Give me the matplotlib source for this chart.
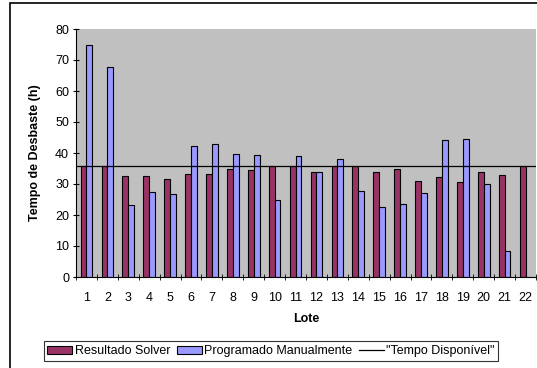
import numpy as np
import matplotlib
matplotlib.use("Agg")
import matplotlib.pyplot as plt
from matplotlib.patches import Rectangle

plt.rcParams['font.family'] = ['Liberation Sans', 'DejaVu Sans']

lotes = [str(i) for i in range(1, 23)]
solver = [35.9, 35.9, 32.7, 32.7, 31.6, 33.3, 33.3, 34.8, 34.5, 35.9, 35.9,
          34.0, 35.9, 35.9, 34.0, 34.9, 31.1, 32.4, 30.8, 34.0, 33.0, 35.9]
manual = [75.0, 67.8, 23.1, 27.3, 26.7, 42.3, 42.9, 39.7, 39.4, 25.0, 39.1,
          34.0, 38.2, 27.8, 22.5, 23.4, 27.0, 44.2, 44.5, 29.9, 8.3, 0.0]
tempo_disp = 35.9

fig = plt.figure(figsize=(5.37, 3.68), dpi=100)
ax = fig.add_axes([76/537, 1-277/368, 460/537, 248/368])
ax.set_facecolor('#C0C0C0')

x = np.arange(len(lotes))
w = 0.28
b1 = ax.bar(x - w/2, solver, w, color='#993366', edgecolor='black', linewidth=0.8,
            label='Resultado Solver', zorder=2)
b2 = ax.bar(x + w/2, manual, w, color='#9999FF', edgecolor='black', linewidth=0.8,
            label='Programado Manualmente', zorder=2)
ln, = ax.plot([-0.5, len(lotes) - 0.5], [tempo_disp, tempo_disp], color='black', lw=0.9,
              label='"Tempo Disponível"', zorder=3)

ax.set_xlim(-0.5, len(lotes) - 0.5)
ax.set_ylim(0, 80)
ax.set_yticks(range(0, 81, 10))
ax.set_xticks(x)
ax.set_xticklabels(lotes)
ax.set_xticks(np.arange(-0.5, len(lotes)), minor=True)
ax.tick_params(axis='x', which='major', length=0, pad=11, labelsize=9)
ax.tick_params(axis='x', which='minor', length=4, direction='inout')
ax.tick_params(axis='y', length=4, direction='inout', labelsize=9, pad=3)

for s in ['top', 'right']:
    ax.spines[s].set_visible(False)

ax.set_xlabel('Lote', fontweight='bold', fontsize=9, labelpad=6)
ax.set_ylabel('Tempo de Desbaste (h)', fontweight='bold', fontsize=9, labelpad=10)

leg = fig.legend(handles=[b1, b2, ln], loc='center', bbox_to_anchor=(271/537, 1-351/368),
                 ncol=3, fontsize=9, frameon=True, fancybox=False, handlelength=2.0,
                 handletextpad=0.2, columnspacing=0.5, borderpad=0.3,
                 handleheight=0.6)
leg.get_frame().set_edgecolor('black')
leg.get_frame().set_linewidth(0.8)

fig.patches.append(Rectangle((10/537, -0.05), 1.1, 1 - 3/368 + 0.05,
                             transform=fig.transFigure, fill=False,
                             edgecolor='black', linewidth=1.2))

fig.savefig('out.png', dpi=100)
